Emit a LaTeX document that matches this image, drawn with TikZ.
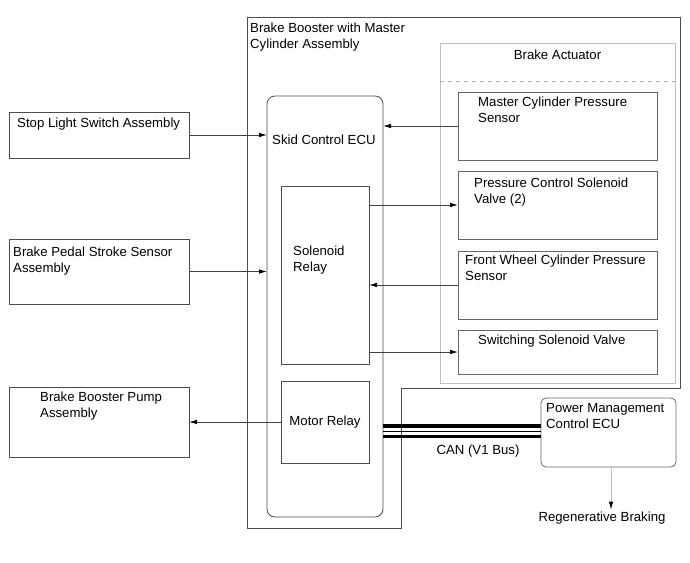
\documentclass[tikz,border=0pt]{standalone}
\usepackage{fontspec}
\setmainfont{Liberation Sans}
\usetikzlibrary{arrows.meta,positioning,calc}
\tikzset{
    brkfont/.style={font=\fontsize{13.2}{16}\selectfont},
    brkbox/.style={draw=black!70, line width=0.8pt, anchor=north west,
        inner sep=0pt, outer sep=0pt},
    brklabel/.style={brkfont, align=left, inner sep=0pt, anchor=north west},
    brkarrow/.style={draw=black!75, line width=0.8pt,
        -{Latex[length=8pt,width=4.5pt,color=black]}},
    canbus/.style={line width=3.5pt, black}
}

\begin{document}
\begin{tikzpicture}[x=1pt, y=-1pt]
\useasboundingbox (0,0) rectangle (690,562);
% outer assembly
\draw[black!70, line width=0.8pt] (247,17) -- (680,17) -- (680,388) -- (401,388)
    -- (401,528) -- (247,528) -- cycle;
\node[brklabel] (booster) at (250,23) {Brake Booster with Master\\Cylinder Assembly};
% outside parts
\node[brkbox, minimum width=180, minimum height=46,
    label={[brklabel, xshift=8, yshift=-6.2]north west:Stop Light Switch Assembly}] (stoplight) at (9,112) {};
\node[brkbox, minimum width=180, minimum height=65,
    label={[brklabel, xshift=4, yshift=-8.2]north west:Brake Pedal Stroke Sensor\\Assembly}] (pedal) at (9,239) {};
\node[brkbox, minimum width=180, minimum height=70,
    label={[brklabel, xshift=31, yshift=-5.2]north west:Brake Booster Pump\\Assembly}] (pump) at (9,387) {};
% skid control ecu
\node[brkbox, rounded corners=8pt, minimum width=116, minimum height=421,
    label={[brklabel, xshift=5, yshift=-39.2]north west:Skid Control ECU}] (skid) at (267,96) {};
\node[brkbox, minimum width=88, minimum height=178,
    label={[brklabel, xshift=12, yshift=-60.2]north west:Solenoid\\Relay}] (solrelay) at (281,186) {};
\node[brkbox, minimum width=88, minimum height=82, brkfont] (motor) at (281,381) {Motor Relay};
% brake actuator
\node[brkbox, draw=black!25, minimum width=235, minimum height=340,
    label={[brklabel, anchor=north, yshift=-7.2]north:Brake Actuator}] (actuator) at (440,43) {};
\draw[black!30, line width=0.8pt, dash pattern=on 4pt off 4pt]
    ([yshift=-38]actuator.north west) -- ([yshift=-38]actuator.north east);
\node[brkbox, draw=black!60, minimum width=199, minimum height=68,
    label={[brklabel, xshift=20, yshift=-5.2]north west:Master Cylinder Pressure\\Sensor}] (mcps) at (458,92) {};
\node[brkbox, draw=black!60, minimum width=199, minimum height=68,
    label={[brklabel, xshift=16, yshift=-7.2]north west:Pressure Control Solenoid\\Valve (2)}] (pcsv) at (458,171) {};
\node[brkbox, draw=black!60, minimum width=199, minimum height=68,
    label={[brklabel, xshift=7, yshift=-4.2]north west:Front Wheel Cylinder Pressure\\Sensor}] (fwcps) at (458,251) {};
\node[brkbox, draw=black!60, minimum width=199, minimum height=44,
    label={[brklabel, xshift=20, yshift=-5.2]north west:Switching Solenoid Valve}] (ssv) at (458,330) {};
% power management
\node[brkbox, draw=black!60, rounded corners=5pt, minimum width=135, minimum height=69,
    label={[brklabel, xshift=5, yshift=-5.2]north west:Power Management\\Control ECU}] (pmecu) at (541,398) {};
\node[brkfont, inner sep=2pt] (regen) at (602,518) {Regenerative Braking};
\node[brkfont, inner sep=0pt] (canlabel) at (478,451) {CAN (V1 Bus)};
% signals
\draw[brkarrow] (stoplight.east) -- (stoplight.east -| skid.west);
\draw[brkarrow] (pedal.east) -- (pedal.east -| skid.west);
\draw[brkarrow] (motor.west) -- (motor.west -| pump.east);
\draw[brkarrow] (mcps.west) -- (mcps.west -| skid.east);
\draw[brkarrow] (pcsv.west -| solrelay.east) -- (pcsv.west);
\draw[brkarrow] (fwcps.west) -- (fwcps.west -| solrelay.east);
\draw[brkarrow] (ssv.west -| solrelay.east) -- (ssv.west);
\draw[brkarrow, draw=black!25] ([xshift=2.5]pmecu.south) -- ([xshift=2.5]pmecu.south |- regen.north);
% can bus
\draw[canbus] ([yshift=6.5]pmecu.west) -- ([yshift=6.5]pmecu.west -| skid.east);
\draw[black, line width=0.8pt] ([yshift=1.5]pmecu.west) -- ([yshift=1.5]pmecu.west -| skid.east);
\draw[canbus] ([yshift=-4]pmecu.west) -- ([yshift=-4]pmecu.west -| skid.east);
\end{tikzpicture}
\end{document}
